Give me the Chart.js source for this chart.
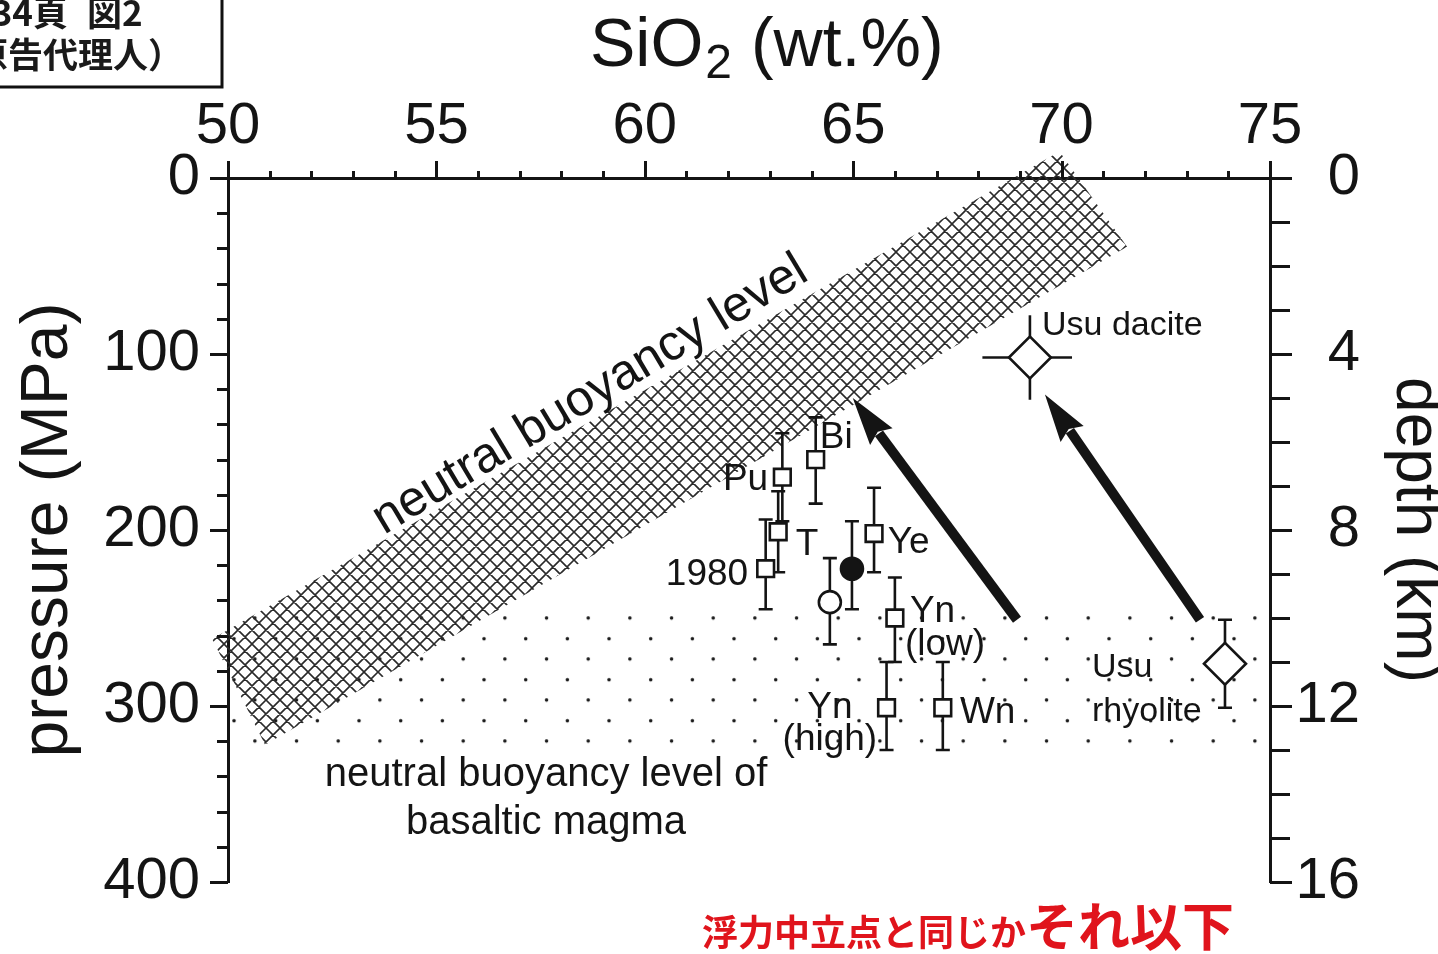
<!DOCTYPE html>
<html>
<head>
<meta charset="utf-8">
<title>SiO2 vs pressure</title>
<script src="https://cdn.jsdelivr.net/npm/chart.js@4.4.1/dist/chart.umd.min.js"></script>
<style>
  html, body { margin: 0; padding: 0; background: #fff; }
  #wrap { width: 1438px; height: 954px; }
</style>
</head>
<body>
<div id="wrap"><canvas id="chart" width="1438" height="954"></canvas></div>
<script>
// SiO2 vs pressure / depth chart

const FONT = '"Liberation Sans", Arial, Helvetica, sans-serif';
const CJK = '"Noto Sans CJK JP", "Noto Sans CJK SC", sans-serif';
const INK = "#141414";

// axis ticks
const sio2Ticks = [50, 55, 60, 65, 70, 75];
const pressureTicks = [0, 100, 200, 300, 400];
const depthTicks = [0, 4, 8, 12, 16];
const sio2MinorStep = 1;
const pressureMinorStep = 20;
const depthMinorStep = 1;

// square samples: SiO2 (wt.%), pressure (MPa), pressure range
const squareNames = ["Pu", "T", "1980", "Bi", "Ye", "Yn (low)", "Yn (high)", "Wn"];
const squareSiO2 = [63.3, 63.2, 62.9, 64.1, 65.5, 66.0, 65.8, 67.15];
const squareP = [170, 201, 222, 160, 202, 250, 301, 301];
const squarePLow = [145, 178, 194, 136, 176, 227, 275, 275];
const squarePHigh = [195, 224, 245, 185, 224, 275, 325, 325];

// open circle sample
const openSiO2 = [64.44];
const openP = [241];
const openPLow = [216];
const openPHigh = [265];

// filled circle sample
const filledSiO2 = [64.97];
const filledP = [222];
const filledPLow = [195];
const filledPHigh = [245];

// Usu samples (diamonds)
const usuNames = ["Usu dacite", "Usu rhyolite"];
const usuSiO2 = [69.24, 73.92];
const usuP = [102, 276];
const usuPLow = [78, 251];
const usuPHigh = [126, 301];
const usuSiO2Low = [68.1, null];
const usuSiO2High = [70.25, null];

// arrows
const arrowFromSiO2 = [68.93, 73.32];
const arrowFromP = [251, 251];
const arrowToSiO2 = [64.99, 69.6];
const arrowToP = [125, 123];

// neutral buoyancy band (corners)
const bandSiO2 = [49.62, 69.95, 71.57, 50.89];
const bandP = [262, -15, 39, 322];

// neutral buoyancy level of basaltic magma (dotted region)
const basaltSiO2 = [50, 75];
const basaltP = [246, 326];

// text labels: [text, SiO2, pressure, align]
const sampleLabels = [
  ["Pu", 62.96, 171.6, "right"],
  ["Bi", 64.2, 147.7, "left"],
  ["T", 63.62, 208.5, "left"],
  ["1980", 62.48, 225.6, "right"],
  ["Ye", 65.83, 207.4, "left"],
  ["Yn", 66.36, 246.6, "left"],
  ["(low)", 66.24, 265.3, "left"],
  ["Yn", 64.44, 301, "center"],
  ["(high)", 64.44, 319.3, "center"],
  ["Wn", 67.56, 304, "left"],
];
const usuLabels = [
  ["Usu dacite", 69.53, 84, "left"],
  ["Usu", 70.73, 278.4, "left"],
  ["rhyolite", 70.73, 303.4, "left"],
];
const basaltLabels = [
  ["neutral buoyancy level of", 57.63, 339.2],
  ["basaltic magma", 57.63, 366.5],
];
const bandLabel = ["neutral buoyancy level", 58.69, 123.3, -31];

function points(xs, ys) {
  return xs.map((v, i) => ({ x: v, y: ys[i] }));
}

function makeHatch() {
  const s = 14, t = s * 2;
  const c = document.createElement("canvas");
  c.width = t;
  c.height = t;
  const g = c.getContext("2d");
  g.strokeStyle = "#2a2a2a";
  g.lineWidth = 1.6;
  g.beginPath();
  for (let i = -t; i <= 2 * t; i += s) {
    g.moveTo(i, 0);
    g.lineTo(i + t, t);
    g.moveTo(i, t);
    g.lineTo(i + t, 0);
  }
  g.stroke();
  return c;
}

function makeDots() {
  const w = 125, h = 41.4;
  const c = document.createElement("canvas");
  c.width = w;
  c.height = 41;
  const g = c.getContext("2d");
  g.fillStyle = "#1a1a1a";
  const step = w / 3;
  for (let k = 0; k < 3; k++) {
    g.beginPath();
    g.arc(step * k + step / 2, 1.8, 1.8, 0, Math.PI * 2);
    g.arc(step * k, h / 2 + 1.8, 1.8, 0, Math.PI * 2);
    g.fill();
  }
  g.beginPath();
  g.arc(w, h / 2 + 1.8, 1.8, 0, Math.PI * 2);
  g.fill();
  return c;
}

function vErr(ctx, px, y1, y2, cap) {
  ctx.beginPath();
  ctx.moveTo(px, y1);
  ctx.lineTo(px, y2);
  if (cap) {
    ctx.moveTo(px - cap, y1);
    ctx.lineTo(px + cap, y1);
    ctx.moveTo(px - cap, y2);
    ctx.lineTo(px + cap, y2);
  }
  ctx.stroke();
}

function drawArrow(ctx, x1, y1, x2, y2) {
  const a = Math.atan2(y2 - y1, x2 - x1);
  const head = 48, half = 14;
  const bx = x2 - head * Math.cos(a);
  const by = y2 - head * Math.sin(a);
  ctx.lineWidth = 10;
  ctx.lineCap = "butt";
  ctx.beginPath();
  ctx.moveTo(x1, y1);
  ctx.lineTo(bx + 4 * Math.cos(a), by + 4 * Math.sin(a));
  ctx.stroke();
  ctx.beginPath();
  ctx.moveTo(x2, y2);
  ctx.lineTo(bx - half * Math.sin(a), by + half * Math.cos(a));
  ctx.lineTo(bx + 6 * Math.cos(a), by + 6 * Math.sin(a));
  ctx.lineTo(bx + half * Math.sin(a), by - half * Math.cos(a));
  ctx.closePath();
  ctx.fill();
}

const overlay = {
  id: "overlay",
  beforeDatasetsDraw(chart) {
    const { ctx, scales } = chart;
    const x = scales.x, y = scales.y;

    // dotted basaltic region
    const dots = ctx.createPattern(makeDots(), "repeat");
    dots.setTransform(new DOMMatrix().translate(x.getPixelForValue(50) + 6, y.getPixelForValue(250) - 1.8));
    ctx.save();
    ctx.fillStyle = dots;
    const rx1 = x.getPixelForValue(basaltSiO2[0]), rx2 = x.getPixelForValue(basaltSiO2[1]);
    const ry1 = y.getPixelForValue(basaltP[0]), ry2 = y.getPixelForValue(basaltP[1]);
    ctx.fillRect(rx1, ry1, rx2 - rx1, ry2 - ry1);
    ctx.restore();

    // cross-hatched band
    ctx.save();
    ctx.fillStyle = ctx.createPattern(makeHatch(), "repeat");
    ctx.beginPath();
    bandSiO2.forEach((v, i) => {
      const px = x.getPixelForValue(v), py = y.getPixelForValue(bandP[i]);
      if (i === 0) ctx.moveTo(px, py);
      else ctx.lineTo(px, py);
    });
    ctx.closePath();
    ctx.fill();
    ctx.restore();

    // error bars
    ctx.save();
    ctx.strokeStyle = INK;
    ctx.lineWidth = 2.6;
    const groups = [
      [squareSiO2, squarePLow, squarePHigh],
      [openSiO2, openPLow, openPHigh],
      [filledSiO2, filledPLow, filledPHigh],
    ];
    groups.forEach(([sx, lo, hi]) => {
      sx.forEach((v, i) => {
        vErr(ctx, x.getPixelForValue(v), y.getPixelForValue(lo[i]), y.getPixelForValue(hi[i]), 7);
      });
    });
    usuSiO2.forEach((v, i) => {
      const hasX = usuSiO2Low[i] !== null;
      vErr(ctx, x.getPixelForValue(v), y.getPixelForValue(usuPLow[i]), y.getPixelForValue(usuPHigh[i]), hasX ? 0 : 7);
      if (hasX) {
        const py = y.getPixelForValue(usuP[i]);
        ctx.beginPath();
        ctx.moveTo(x.getPixelForValue(usuSiO2Low[i]), py);
        ctx.lineTo(x.getPixelForValue(usuSiO2High[i]), py);
        ctx.stroke();
      }
    });
    ctx.restore();
  },

  afterDatasetsDraw(chart) {
    const { ctx, scales } = chart;
    const x = scales.x, y = scales.y;

    ctx.save();
    ctx.fillStyle = INK;
    ctx.strokeStyle = INK;
    arrowFromSiO2.forEach((v, i) => {
      drawArrow(ctx,
        x.getPixelForValue(v), y.getPixelForValue(arrowFromP[i]),
        x.getPixelForValue(arrowToSiO2[i]), y.getPixelForValue(arrowToP[i]));
    });

    ctx.textBaseline = "middle";
    ctx.font = `37px ${FONT}`;
    sampleLabels.forEach(([t, sx, p, align]) => {
      ctx.textAlign = align;
      ctx.fillText(t, x.getPixelForValue(sx), y.getPixelForValue(p));
    });
    ctx.font = `34px ${FONT}`;
    usuLabels.forEach(([t, sx, p, align]) => {
      ctx.textAlign = align;
      ctx.fillText(t, x.getPixelForValue(sx), y.getPixelForValue(p));
    });
    ctx.font = `40px ${FONT}`;
    ctx.textAlign = "center";
    basaltLabels.forEach(([t, sx, p]) => {
      ctx.fillText(t, x.getPixelForValue(sx), y.getPixelForValue(p));
    });

    ctx.save();
    ctx.translate(x.getPixelForValue(bandLabel[1]), y.getPixelForValue(bandLabel[2]));
    ctx.rotate((bandLabel[3] * Math.PI) / 180);
    ctx.font = `50px ${FONT}`;
    ctx.fillText(bandLabel[0], 0, 0);
    ctx.restore();
    ctx.restore();
  },

  afterDraw(chart) {
    const { ctx, scales, chartArea } = chart;
    const x = scales.x, y = scales.y, y2 = scales.y2;
    const top = chartArea.top, left = chartArea.left, right = chartArea.right;

    ctx.save();
    ctx.strokeStyle = INK;
    ctx.lineWidth = 3;
    ctx.beginPath();
    // top axis ticks (outward)
    for (let v = sio2Ticks[0]; v <= sio2Ticks[sio2Ticks.length - 1]; v += sio2MinorStep) {
      const px = Math.round(x.getPixelForValue(v)) + 0.5;
      const len = sio2Ticks.includes(v) ? 17 : 7;
      ctx.moveTo(px, top);
      ctx.lineTo(px, top - len);
    }
    // left axis ticks (outward)
    for (let v = pressureTicks[0]; v <= pressureTicks[pressureTicks.length - 1]; v += pressureMinorStep) {
      const py = Math.round(y.getPixelForValue(v)) + 0.5;
      const len = pressureTicks.includes(v) ? 18 : 11;
      ctx.moveTo(left, py);
      ctx.lineTo(left - len, py);
    }
    // right axis ticks (outward)
    for (let v = depthTicks[0]; v <= depthTicks[depthTicks.length - 1]; v += depthMinorStep) {
      const py = Math.round(y2.getPixelForValue(v)) + 0.5;
      const len = depthTicks.includes(v) ? 22 : 20;
      ctx.moveTo(right, py);
      ctx.lineTo(right + len, py);
    }
    ctx.stroke();

    // right axis tick labels, right-aligned
    ctx.fillStyle = INK;
    ctx.font = `58px ${FONT}`;
    ctx.textAlign = "right";
    ctx.textBaseline = "middle";
    depthTicks.forEach((v) => {
      ctx.fillText(String(v), right + 90, y2.getPixelForValue(v));
    });
    ctx.restore();

    // top axis title with subscript
    ctx.save();
    ctx.fillStyle = INK;
    ctx.textBaseline = "alphabetic";
    ctx.textAlign = "left";
    let tx = 590;
    const base = 66;
    ctx.font = `68px ${FONT}`;
    ctx.fillText("SiO", tx, base);
    tx += ctx.measureText("SiO").width + 2;
    ctx.font = `48px ${FONT}`;
    ctx.fillText("2", tx, base + 12);
    tx += ctx.measureText("2").width;
    ctx.font = `68px ${FONT}`;
    ctx.fillText(" (wt.%)", tx, base);
    ctx.restore();

    // page notes (Japanese)
    ctx.save();
    ctx.strokeStyle = "#111";
    ctx.lineWidth = 3;
    ctx.beginPath();
    ctx.moveTo(-5, 87);
    ctx.lineTo(222, 87);
    ctx.lineTo(222, -5);
    ctx.stroke();
    ctx.fillStyle = "#1a1a1a";
    ctx.font = `bold 35px ${CJK}`;
    ctx.textBaseline = "middle";
    ctx.textAlign = "right";
    ctx.fillText("34頁", 68, 13);
    ctx.textAlign = "left";
    ctx.fillText("図2", 87, 13);
    ctx.textAlign = "right";
    ctx.fillText("原告代理人）", 183, 55);

    ctx.fillStyle = "#e0141c";
    ctx.textAlign = "left";
    ctx.textBaseline = "alphabetic";
    ctx.font = `bold 36px ${CJK}`;
    ctx.fillText("浮力中立点と同じか", 702, 946);
    const w1 = ctx.measureText("浮力中立点と同じか").width;
    ctx.font = `bold 52px ${CJK}`;
    ctx.fillText("それ以下", 702 + w1, 946);
    ctx.restore();
  },
};

const markerStyle = {
  pointBackgroundColor: "#fff",
  pointBorderColor: INK,
  pointBorderWidth: 2.6,
  showLine: false,
  clip: false,
};

new Chart(document.getElementById("chart"), {
  type: "scatter",
  data: {
    datasets: [
      { label: "samples", data: points(squareSiO2, squareP), pointStyle: "rect", pointRadius: 11.8, ...markerStyle },
      { label: "open", data: points(openSiO2, openP), pointStyle: "circle", pointRadius: 11, ...markerStyle },
      { label: "filled", data: points(filledSiO2, filledP), pointStyle: "circle", pointRadius: 11, ...markerStyle, pointBackgroundColor: INK },
      { label: "Usu", data: points(usuSiO2, usuP), pointStyle: "rectRot", pointRadius: 21, ...markerStyle },
    ],
  },
  options: {
    responsive: false,
    animation: false,
    layout: { padding: { left: 0, right: 0, top: 0, bottom: 72 } },
    plugins: {
      legend: { display: false },
      tooltip: { enabled: false },
    },
    scales: {
      x: {
        type: "linear",
        position: "top",
        min: 50,
        max: 75,
        afterBuildTicks: (s) => { s.ticks = sio2Ticks.map((v) => ({ value: v })); },
        afterFit: (s) => { s.height = 178; },
        ticks: { font: { size: 58, family: FONT }, color: INK, padding: 16, maxRotation: 0 },
        grid: { display: false, drawTicks: false },
        border: { display: true, width: 3, color: INK },
      },
      y: {
        type: "linear",
        position: "left",
        reverse: true,
        min: 0,
        max: 400,
        afterBuildTicks: (s) => { s.ticks = pressureTicks.map((v) => ({ value: v })); },
        afterFit: (s) => { s.width = 228; },
        ticks: { font: { size: 58, family: FONT }, color: INK, padding: 28 },
        grid: { display: false, drawTicks: false },
        border: { display: true, width: 3, color: INK },
        title: {
          display: true,
          text: "pressure (MPa)",
          color: INK,
          font: { size: 66, family: FONT, lineHeight: 1 },
          padding: { top: 16, bottom: 0 },
        },
      },
      y2: {
        type: "linear",
        position: "right",
        reverse: true,
        min: 0,
        max: 16,
        afterBuildTicks: (s) => { s.ticks = depthTicks.map((v) => ({ value: v })); },
        afterFit: (s) => { s.width = 168; },
        ticks: { display: false },
        grid: { display: false, drawTicks: false },
        border: { display: true, width: 3, color: INK },
        title: {
          display: true,
          text: "depth (km)",
          color: INK,
          font: { size: 64, family: FONT, lineHeight: 1 },
          padding: { top: -9, bottom: 0 },
        },
      },
    },
  },
  plugins: [overlay],
});
</script>
</body>
</html>
